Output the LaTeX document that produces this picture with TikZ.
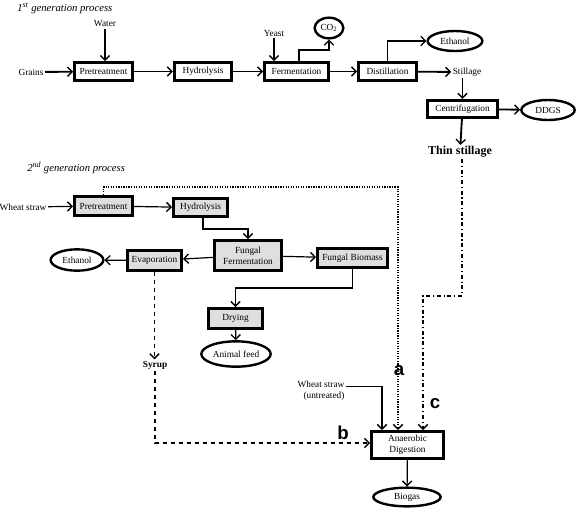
\documentclass[tikz,border=0pt]{standalone}
\usepackage{fontspec}
\setmainfont{Liberation Serif}
\newfontfamily\labelfont{Liberation Sans}
\usepackage{tikz}
\usetikzlibrary{arrows.meta,positioning,calc,shapes.geometric}

\begin{document}
\begin{tikzpicture}[
      x=0.75pt, y=-0.75pt,
      box/.style={draw=black, line width=2.2pt, minimum height=13.5pt, inner sep=1pt, align=center, font=\fontsize{7pt}{8pt}\selectfont},
      gbox/.style={box, fill=gray!25},
      prod/.style={draw=black, ellipse, line width=1.8pt, inner sep=0pt, minimum width=40pt, minimum height=15pt, font=\fontsize{7pt}{8pt}\selectfont},
      txt/.style={inner sep=1pt, align=center, font=\fontsize{7pt}{8pt}\selectfont},
      title/.style={anchor=west, inner sep=0pt, font=\fontsize{8pt}{9pt}\selectfont\itshape},
      tag/.style={inner sep=0pt, font=\fontsize{14pt}{16pt}\selectfont\labelfont\bfseries},
      arr/.style={-{Straight Barb[length=3.5pt, width=7pt, line width=1pt]}, line width=0.9pt, color=black},
      harr/.style={arr, line width=1.4pt}
  ]
      \useasboundingbox (0,0) rectangle (577,511);

      % 1st generation
      \node[title] (t1) at (17,8) {1\textsuperscript{st} generation process};

      \node[txt] (water) at (105,24) {Water};
      \node[txt] (grains) at (31,72) {Grains};
      \node[txt] (yeast) at (274,33) {Yeast};
      \node[box, minimum width=43.5pt] (pre1) at (103.5,71.5) {Pretreatment};
      \node[box, minimum width=43pt] (hyd1) at (203,71.5) {Hydrolysis};
      \node[box, minimum width=48pt] (ferm1) at (296.5,71.5) {Fermentation};
      \node[box, minimum width=43.5pt] (dist1) at (387.5,71.5) {Distillation};
      \node[prod, minimum width=21.5pt, minimum height=15.5pt] (co2) at (329,28) {CO\textsubscript{2}};
      \node[prod, minimum width=41pt] (eth1) at (455,41) {Ethanol};
      \node[txt] (still) at (467,72) {Stillage};
      \node[box, minimum width=52.5pt, minimum height=13pt] (cent1) at (462.5,109) {Centrifugation};
      \node[prod, minimum width=40pt] (ddgs) at (548,110) {DDGS};
      \node[txt, font=\fontsize{9pt}{10pt}\selectfont\bfseries] (thin) at (460,152) {Thin stillage};

      \draw[arr] (water.south) -- (water.south |- pre1.north);
      \draw[harr] (grains) -- (pre1);
      \draw[harr] (pre1) -- (hyd1);
      \draw[harr] (hyd1) -- (ferm1);
      \draw[harr] (ferm1) -- (dist1);
      \draw[arr] (yeast.south) -- (yeast.south |- ferm1.north);
      \draw[arr] ($(ferm1.north)+(2.5,0)$) -- ++(0,-11) -| (co2.south);
      \draw[arr] (dist1.north) |- (eth1.west);
      \draw[harr] (dist1) -- (still);
      \draw[arr] (cent1.north |- still.south) -- (cent1.north);
      \draw[harr] (cent1) -- (ddgs);
      \draw[harr] (cent1) -- (thin);

      % 2nd generation
      \node[title] (t2) at (27,168) {2\textsuperscript{nd} generation process};

      \node[txt] (ws2) at (23,207) {Wheat straw};
      \node[gbox, minimum width=43.5pt, minimum height=14.3pt] (pre2) at (103.5,206) {Pretreatment};
      \node[gbox, minimum width=40.5pt] (hyd2) at (200.5,207.5) {Hydrolysis};
      \node[gbox, minimum width=50.3pt, minimum height=22.5pt] (ffer) at (248,255.5) {Fungal\\Fermentation};
      \node[gbox, minimum width=52.5pt, minimum height=14.3pt] (fbio) at (352.5,258) {Fungal Biomass};
      \node[gbox, minimum width=40.5pt, minimum height=15pt] (evap) at (154.5,260.5) {Evaporation};
      \node[prod, minimum width=39.5pt, minimum height=16pt] (eth2) at (77,260) {Ethanol};
      \node[gbox, minimum width=40.5pt, minimum height=15pt] (dry) at (235.5,318.5) {Drying};
      \node[prod, minimum width=52pt, minimum height=19pt] (feed) at (236,354) {Animal feed};
      \node[txt, font=\fontsize{7pt}{8pt}\selectfont\bfseries] (syrup) at (155,365) {Syrup};

      \draw[arr] (ws2) -- (pre2);
      \draw[arr] (pre2) -- (hyd2);
      \draw[arr] ($(hyd2.south)+(2.5,0)$) -- ++(0,11) -| (ffer.north);
      \draw[arr] (ffer) -- (fbio);
      \draw[arr] (ffer) -- (evap);
      \draw[arr] (evap) -- (eth2);
      \draw[arr] (fbio.south) -- ++(0,19) -| (dry.north);
      \draw[arr] (dry) -- (feed);
      \draw[arr, dashed] (evap.south) -- (evap.south |- syrup.north);

      % digestion
      \node[txt, align=right] (ws3) at (321,391) {Wheat straw\\(untreated)};
      \node[box, minimum width=54pt, minimum height=20.3pt] (ad) at (407.5,445) {Anaerobic\\Digestion};
      \node[prod, minimum width=50.5pt, minimum height=14pt] (biogas) at (407,497) {Biogas};

      \coordinate (ws-in) at ($(ad.north)+(-25.5,0)$);
      \coordinate (a-in) at ($(ad.north)+(-9.5,0)$);
      \coordinate (c-in) at ($(ad.north)+(15.5,0)$);
      \coordinate (c-bend) at (462,296);

      \draw[line width=0.9pt] ($(ws3.north east)!0.3!(ws3.south east)$) -| ($(ws-in)+(0,-2)$);
      \draw[arr] ($(ws-in)+(0,-10)$) -- (ws-in);
      \draw[arr, densely dotted, line width=1.1pt] (pre2.north) -- ++(0,-8) -| (a-in);
      \draw[arr, dashed] (syrup.south) |- ($(ad.west)+(0,-2)$);
      \draw[arr, dash dot, line width=1.1pt] (thin.south -| c-bend) -- (c-bend) -| (c-in);
      \draw[arr] (ad) -- (biogas);

      \node[tag] (la) at (399,371) {a};
      \node[tag] (lb) at (343,433) {b};
      \node[tag] (lc) at (435,404) {c};
  \end{tikzpicture}
\end{document}
